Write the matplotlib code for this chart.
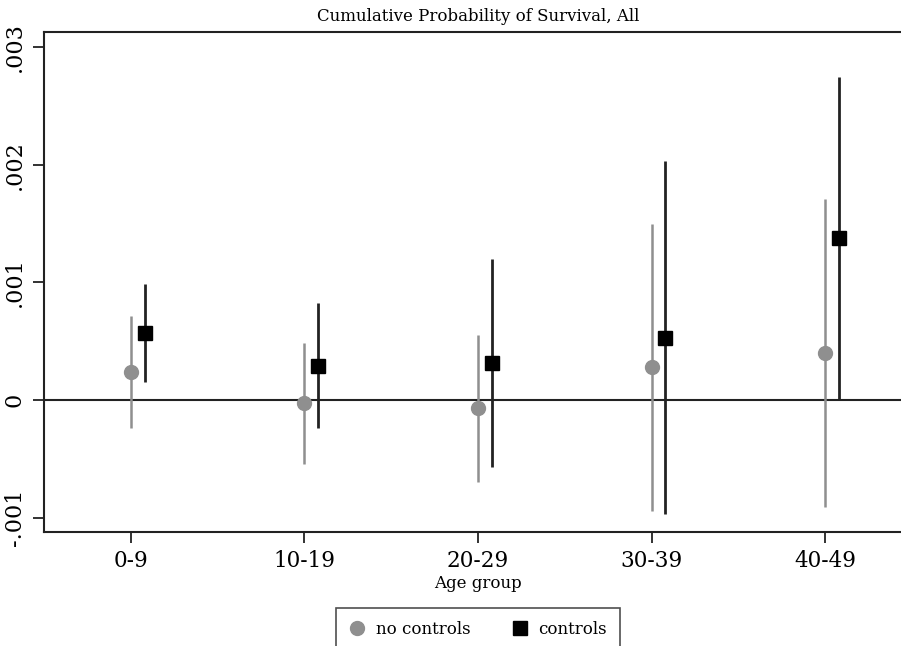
import numpy as np
import matplotlib.pyplot as plt

# Estimates and 95% CIs
groups = ['0-9', '10-19', '20-29', '30-39', '40-49']
nc_est = [0.000238, -0.000026, -0.000068, 0.00028, 0.0004]
nc_lo = [-0.000238, -0.000544, -0.0007, -0.00094, -0.00091]
nc_hi = [0.000714, 0.000485, 0.00055, 0.0015, 0.00171]
c_est = [0.00057, 0.00029, 0.000315, 0.000527, 0.00138]
c_lo = [0.000153, -0.00024, -0.00057, -0.00097, 0.0]
c_hi = [0.00099, 0.000825, 0.0012, 0.00203, 0.00275]
yticks = [-0.001, 0, 0.001, 0.002, 0.003]
ytick_labels = ['-.001', '0', '.001', '.002', '.003']

plt.rcParams['font.family'] = ['DejaVu Serif']

fig = plt.figure(figsize=(9.01, 6.46), dpi=100)
ax = fig.add_axes([44 / 901, 114 / 646, 868 / 901, 500 / 646])

x = np.arange(1, len(groups) + 1)
off = 0.08
gray = '#8f8f8f'

ax.vlines(x, nc_lo, nc_hi, color=gray, lw=1.8, zorder=2)
ax.vlines(x + off, c_lo, c_hi, color='#222222', lw=2.0, zorder=2)
ax.plot(x, nc_est, 'o', color=gray, ms=10, ls='none', label='no controls', zorder=3)
ax.plot(x + off, c_est, 's', color='black', ms=10, ls='none', label='controls', zorder=3)
ax.axhline(0, color='#222222', lw=1.5, zorder=1)

ax.set_xlim(0.5, 5.5)
ax.set_ylim(-0.001122, 0.003129)
ax.set_xticks(x)
ax.set_xticklabels(groups, fontsize=15.5)
ax.set_yticks(yticks)
ax.set_yticklabels(ytick_labels, fontsize=16, rotation=90, va='center')
ax.tick_params(axis='both', length=8, width=1.3, color='#222222', pad=5)

for side in ['left', 'top', 'bottom']:
    ax.spines[side].set_linewidth(1.5)
    ax.spines[side].set_color('#222222')
ax.spines['right'].set_visible(False)

ax.set_title('Cumulative Probability of Survival, All', fontsize=12, pad=8,
             x=(478 - 44) / 868, y=1.0)
ax.set_xlabel('Age group', fontsize=12, labelpad=0)
ax.xaxis.set_label_coords((478 - 44) / 868, -0.087)

leg = fig.legend(loc='lower center', bbox_to_anchor=(478 / 901, -0.021), ncol=2,
                 frameon=True, fancybox=False, edgecolor='#222222', fontsize=12,
                 handletextpad=0.6, columnspacing=2.5, borderpad=0.8, handlelength=1.0)
leg.get_frame().set_linewidth(1.2)

fig.savefig('out.png', dpi=100)
